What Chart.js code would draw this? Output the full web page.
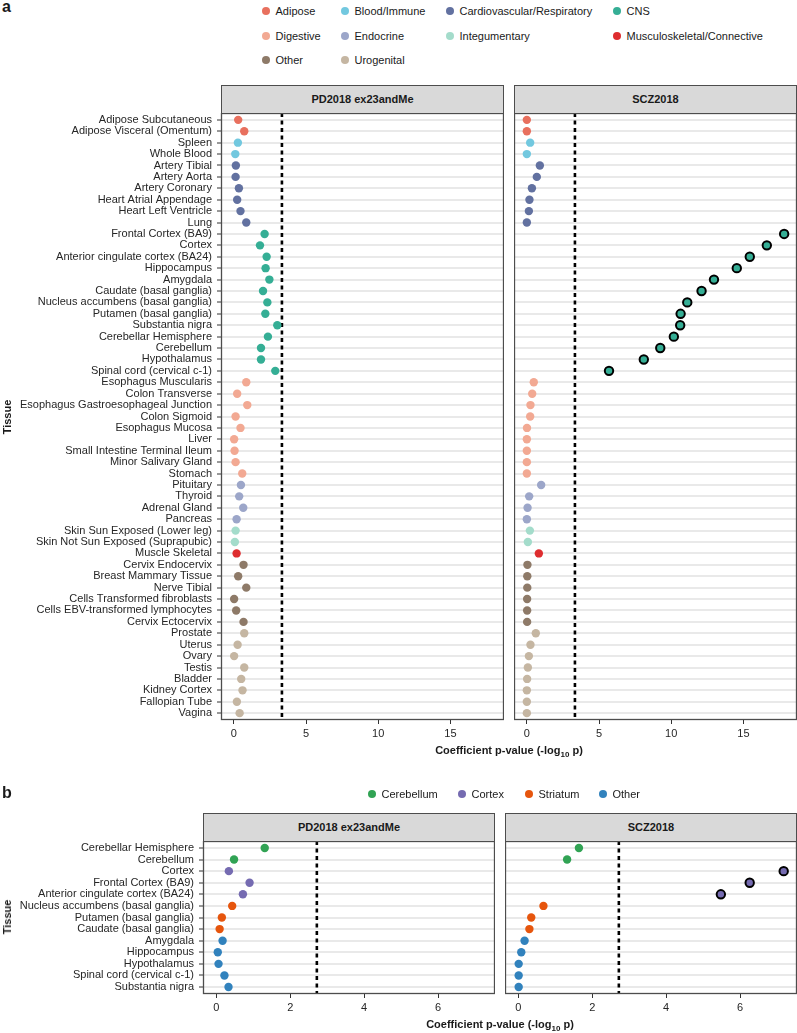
<!DOCTYPE html>
<html>
<head>
<meta charset="utf-8">
<script src="https://cdn.jsdelivr.net/npm/chart.js@4.4.0/dist/chart.umd.min.js"></script>
<style>
  body { margin: 0; background: #fff; font-family: "Liberation Sans", Arial, sans-serif; color: #1a1a1a; }
  #page { position: relative; width: 797px; height: 1033px; overflow: hidden; }
  canvas { position: absolute; }
  .tag { position: absolute; font-weight: bold; font-size: 16px; }
  .strip { position: absolute; box-sizing: border-box; background: #d9d9d9; border: 1.3px solid #4d4d4d;
           font-weight: bold; font-size: 11px; text-align: center; line-height: 26px; }
  .key { position: absolute; display: flex; align-items: center; height: 14px; font-size: 11px; white-space: nowrap; }
  .key span { display: inline-block; width: 8px; height: 8px; border-radius: 50%; margin-right: 5.5px; }
  .title { position: absolute; font-weight: bold; font-size: 11px; white-space: nowrap; }
  .title sub { font-size: 8px; font-weight: bold; }
  .ytitle { transform: translate(-50%, -50%) rotate(-90deg); }
</style>
</head>
<body>
<div id="page"></div>
<script>
// panel a: all GTEx tissues
const tissues = [
  'Adipose Subcutaneous', 'Adipose Visceral (Omentum)', 'Spleen', 'Whole Blood', 'Artery Tibial',
  'Artery Aorta', 'Artery Coronary', 'Heart Atrial Appendage', 'Heart Left Ventricle', 'Lung',
  'Frontal Cortex (BA9)', 'Cortex', 'Anterior cingulate cortex (BA24)', 'Hippocampus', 'Amygdala',
  'Caudate (basal ganglia)', 'Nucleus accumbens (basal ganglia)', 'Putamen (basal ganglia)', 'Substantia nigra',
  'Cerebellar Hemisphere', 'Cerebellum', 'Hypothalamus', 'Spinal cord (cervical c-1)',
  'Esophagus Muscularis', 'Colon Transverse', 'Esophagus Gastroesophageal Junction', 'Colon Sigmoid',
  'Esophagus Mucosa', 'Liver', 'Small Intestine Terminal Ileum', 'Minor Salivary Gland', 'Stomach',
  'Pituitary', 'Thyroid', 'Adrenal Gland', 'Pancreas', 'Skin Sun Exposed (Lower leg)',
  'Skin Not Sun Exposed (Suprapubic)', 'Muscle Skeletal', 'Cervix Endocervix', 'Breast Mammary Tissue',
  'Nerve Tibial', 'Cells Transformed fibroblasts', 'Cells EBV-transformed lymphocytes', 'Cervix Ectocervix',
  'Prostate', 'Uterus', 'Ovary', 'Testis', 'Bladder', 'Kidney Cortex', 'Fallopian Tube', 'Vagina'
];
const tissueGroup = [
  0, 0, 1, 1, 2, 2, 2, 2, 2, 2,
  3, 3, 3, 3, 3, 3, 3, 3, 3, 3, 3, 3, 3,
  4, 4, 4, 4, 4, 4, 4, 4, 4,
  5, 5, 5, 5, 6, 6, 7,
  8, 8, 8, 8, 8, 8,
  9, 9, 9, 9, 9, 9, 9, 9
];
const pdValues = [
  0.30, 0.72, 0.28, 0.10, 0.14, 0.12, 0.35, 0.23, 0.46, 0.86,
  2.13, 1.81, 2.27, 2.20, 2.46, 2.02, 2.32, 2.18, 3.01, 2.36, 1.88, 1.88, 2.87,
  0.86, 0.23, 0.93, 0.12, 0.46, 0.02, 0.05, 0.12, 0.58,
  0.49, 0.37, 0.65, 0.19, 0.12, 0.07, 0.19,
  0.67, 0.30, 0.86, 0.02, 0.16, 0.67,
  0.72, 0.26, 0.02, 0.72, 0.51, 0.60, 0.21, 0.40
];
const sczValues = [
  0.00, 0.00, 0.23, 0.00, 0.90, 0.69, 0.35, 0.18, 0.14, 0.00,
  17.82, 16.62, 15.44, 14.54, 12.96, 12.10, 11.11, 10.65, 10.62, 10.18, 9.24, 8.10, 5.69,
  0.48, 0.37, 0.25, 0.23, 0.01, 0.00, 0.00, 0.00, 0.00,
  0.99, 0.16, 0.05, 0.00, 0.21, 0.07, 0.83,
  0.04, 0.03, 0.03, 0.02, 0.02, 0.02,
  0.62, 0.25, 0.14, 0.07, 0.02, 0.00, 0.00, 0.00
];
const groups = ['Adipose', 'Blood/Immune', 'Cardiovascular/Respiratory', 'CNS', 'Digestive',
  'Endocrine', 'Integumentary', 'Musculoskeletal/Connective', 'Other', 'Urogenital'];
const groupColors = ['#e8705e', '#72c8df', '#6271a0', '#35ae95', '#f2a993',
  '#9ca6c9', '#a4dccb', '#de2d2f', '#8e7a68', '#c5b6a2'];
const thresholdA = 3.33;
const xRangeA = [-0.89, 18.71];

// panel b: brain tissues only
const brainTissues = [
  'Cerebellar Hemisphere', 'Cerebellum', 'Cortex', 'Frontal Cortex (BA9)', 'Anterior cingulate cortex (BA24)',
  'Nucleus accumbens (basal ganglia)', 'Putamen (basal ganglia)', 'Caudate (basal ganglia)', 'Amygdala',
  'Hippocampus', 'Hypothalamus', 'Spinal cord (cervical c-1)', 'Substantia nigra'
];
const brainGroup = [0, 0, 1, 1, 1, 2, 2, 2, 3, 3, 3, 3, 3];
const brainPd = [1.31, 0.48, 0.34, 0.90, 0.72, 0.43, 0.15, 0.09, 0.17, 0.04, 0.06, 0.22, 0.33];
const brainScz = [1.64, 1.32, 7.18, 6.26, 5.48, 0.68, 0.35, 0.30, 0.17, 0.08, 0.01, 0.01, 0.01];
const brainGroups = ['Cerebellum', 'Cortex', 'Striatum', 'Other'];
const brainColors = ['#31a354', '#756bb1', '#e6550d', '#3182bd'];
const thresholdB = 2.72;
const xRangeB = [-0.36, 7.54];

const facets = ['PD2018 ex23andMe', 'SCZ2018'];

Chart.defaults.font.family = '"Liberation Sans", Arial, sans-serif';
Chart.defaults.font.size = 11;
Chart.defaults.color = '#262626';

const page = document.getElementById('page');

function addDiv(cls, html, style) {
  const d = document.createElement('div');
  d.className = cls;
  d.innerHTML = html;
  Object.assign(d.style, style);
  page.appendChild(d);
  return d;
}

const framePlugin = {
  id: 'frame',
  afterDraw(chart) {
    const { ctx, chartArea: a } = chart;
    ctx.save();
    ctx.strokeStyle = '#4d4d4d';
    ctx.lineWidth = 1.3;
    ctx.strokeRect(a.left + 0.5, a.top + 0.5, a.width - 1, a.height - 1);
    ctx.restore();
  }
};

function makeFacet(box, cfg) {
  const canvas = document.createElement('canvas');
  canvas.width = box.w;
  canvas.height = box.h;
  canvas.style.left = box.x + 'px';
  canvas.style.top = box.y + 'px';
  page.appendChild(canvas);

  const n = cfg.labels.length;
  const yMin = -0.6, yMax = n - 1 + 0.6;

  new Chart(canvas, {
    type: 'scatter',
    data: {
      datasets: [
        {
          data: cfg.values.map((v, i) => ({ x: v, y: i })),
          backgroundColor: cfg.values.map((v, i) => cfg.colors[cfg.group[i]]),
          borderColor: '#000',
          borderWidth: cfg.values.map(v => v > cfg.threshold ? 2 : 0),
          pointRadius: 4.2,
          order: 0
        },
        {
          type: 'line',
          data: [{ x: cfg.threshold, y: yMin }, { x: cfg.threshold, y: yMax }],
          borderColor: '#000',
          borderWidth: 2.6,
          borderDash: [4, 3.5],
          pointRadius: 0,
          order: 1
        }
      ]
    },
    options: {
      responsive: false,
      animation: false,
      layout: { padding: 0, autoPadding: false },
      plugins: { legend: { display: false }, tooltip: { enabled: false } },
      scales: {
        x: {
          type: 'linear',
          min: cfg.xRange[0],
          max: cfg.xRange[1],
          ticks: { stepSize: cfg.step, includeBounds: false, padding: 3, color: '#262626' },
          grid: { drawOnChartArea: false, drawTicks: true, tickLength: 4, tickColor: '#333', tickWidth: 1 },
          border: { display: false },
          afterFit: s => { s.height = box.xAxisH; s.paddingLeft = 0; s.paddingRight = 0; }
        },
        y: {
          type: 'linear',
          reverse: true,
          min: yMin,
          max: yMax,
          ticks: {
            display: cfg.showLabels,
            stepSize: 1,
            includeBounds: false,
            autoSkip: false,
            padding: 5,
            color: '#262626',
            callback: v => cfg.labels[v] || ''
          },
          grid: {
            color: '#e9e9e9',
            lineWidth: 2,
            drawTicks: cfg.showLabels,
            tickLength: 4,
            tickColor: '#333',
            tickWidth: 1
          },
          border: { display: false },
          afterFit: s => { s.width = box.yAxisW; s.paddingTop = 0; s.paddingBottom = 0; }
        }
      }
    },
    plugins: [framePlugin]
  });
}

function addLegend(names, colors, rows, cols) {
  names.forEach((name, i) => {
    const cy = rows[Math.floor(i / cols.length)];
    const dx = cols[i % cols.length];
    addDiv('key', `<span style="background:${colors[i]}"></span>${name}`,
      { left: (dx - 4) + 'px', top: (cy - 7) + 'px' });
  });
}

function addStrip(text, x, y, w) {
  addDiv('strip', text, { left: x + 'px', top: y + 'px', width: w + 'px', height: '29px' });
}

// ---- panel a ----
addDiv('tag', 'a', { left: '2px', top: '-2px' });
addLegend(groups, groupColors, [11, 36, 60], [266, 345, 450, 617]);
addStrip(facets[0], 221, 85, 283);
addStrip(facets[1], 514, 85, 283);

makeFacet({ x: 0, y: 113, w: 504, h: 637, yAxisW: 221, xAxisH: 30 }, {
  labels: tissues, group: tissueGroup, values: pdValues, colors: groupColors,
  threshold: thresholdA, xRange: xRangeA, step: 5, showLabels: true
});
makeFacet({ x: 514, y: 113, w: 283, h: 637, yAxisW: 0, xAxisH: 30 }, {
  labels: tissues, group: tissueGroup, values: sczValues, colors: groupColors,
  threshold: thresholdA, xRange: xRangeA, step: 5, showLabels: false
});
addDiv('title ytitle', 'Tissue', { left: '7px', top: '417px' });
addDiv('title', 'Coefficient p-value (-log<sub>10</sub> p)',
  { left: '509px', top: '744px', transform: 'translateX(-50%)' });

// ---- panel b ----
addDiv('tag', 'b', { left: '2px', top: '784px' });
addLegend(brainGroups, brainColors, [794], [372, 462, 529, 603]);
addStrip(facets[0], 203, 813, 292);
addStrip(facets[1], 505, 813, 292);

makeFacet({ x: 0, y: 841, w: 495, h: 178, yAxisW: 203, xAxisH: 25 }, {
  labels: brainTissues, group: brainGroup, values: brainPd, colors: brainColors,
  threshold: thresholdB, xRange: xRangeB, step: 2, showLabels: true
});
makeFacet({ x: 505, y: 841, w: 292, h: 178, yAxisW: 0, xAxisH: 25 }, {
  labels: brainTissues, group: brainGroup, values: brainScz, colors: brainColors,
  threshold: thresholdB, xRange: xRangeB, step: 2, showLabels: false
});
addDiv('title ytitle', 'Tissue', { left: '7px', top: '917px' });
addDiv('title', 'Coefficient p-value (-log<sub>10</sub> p)',
  { left: '500px', top: '1018px', transform: 'translateX(-50%)' });
</script>
</body>
</html>
